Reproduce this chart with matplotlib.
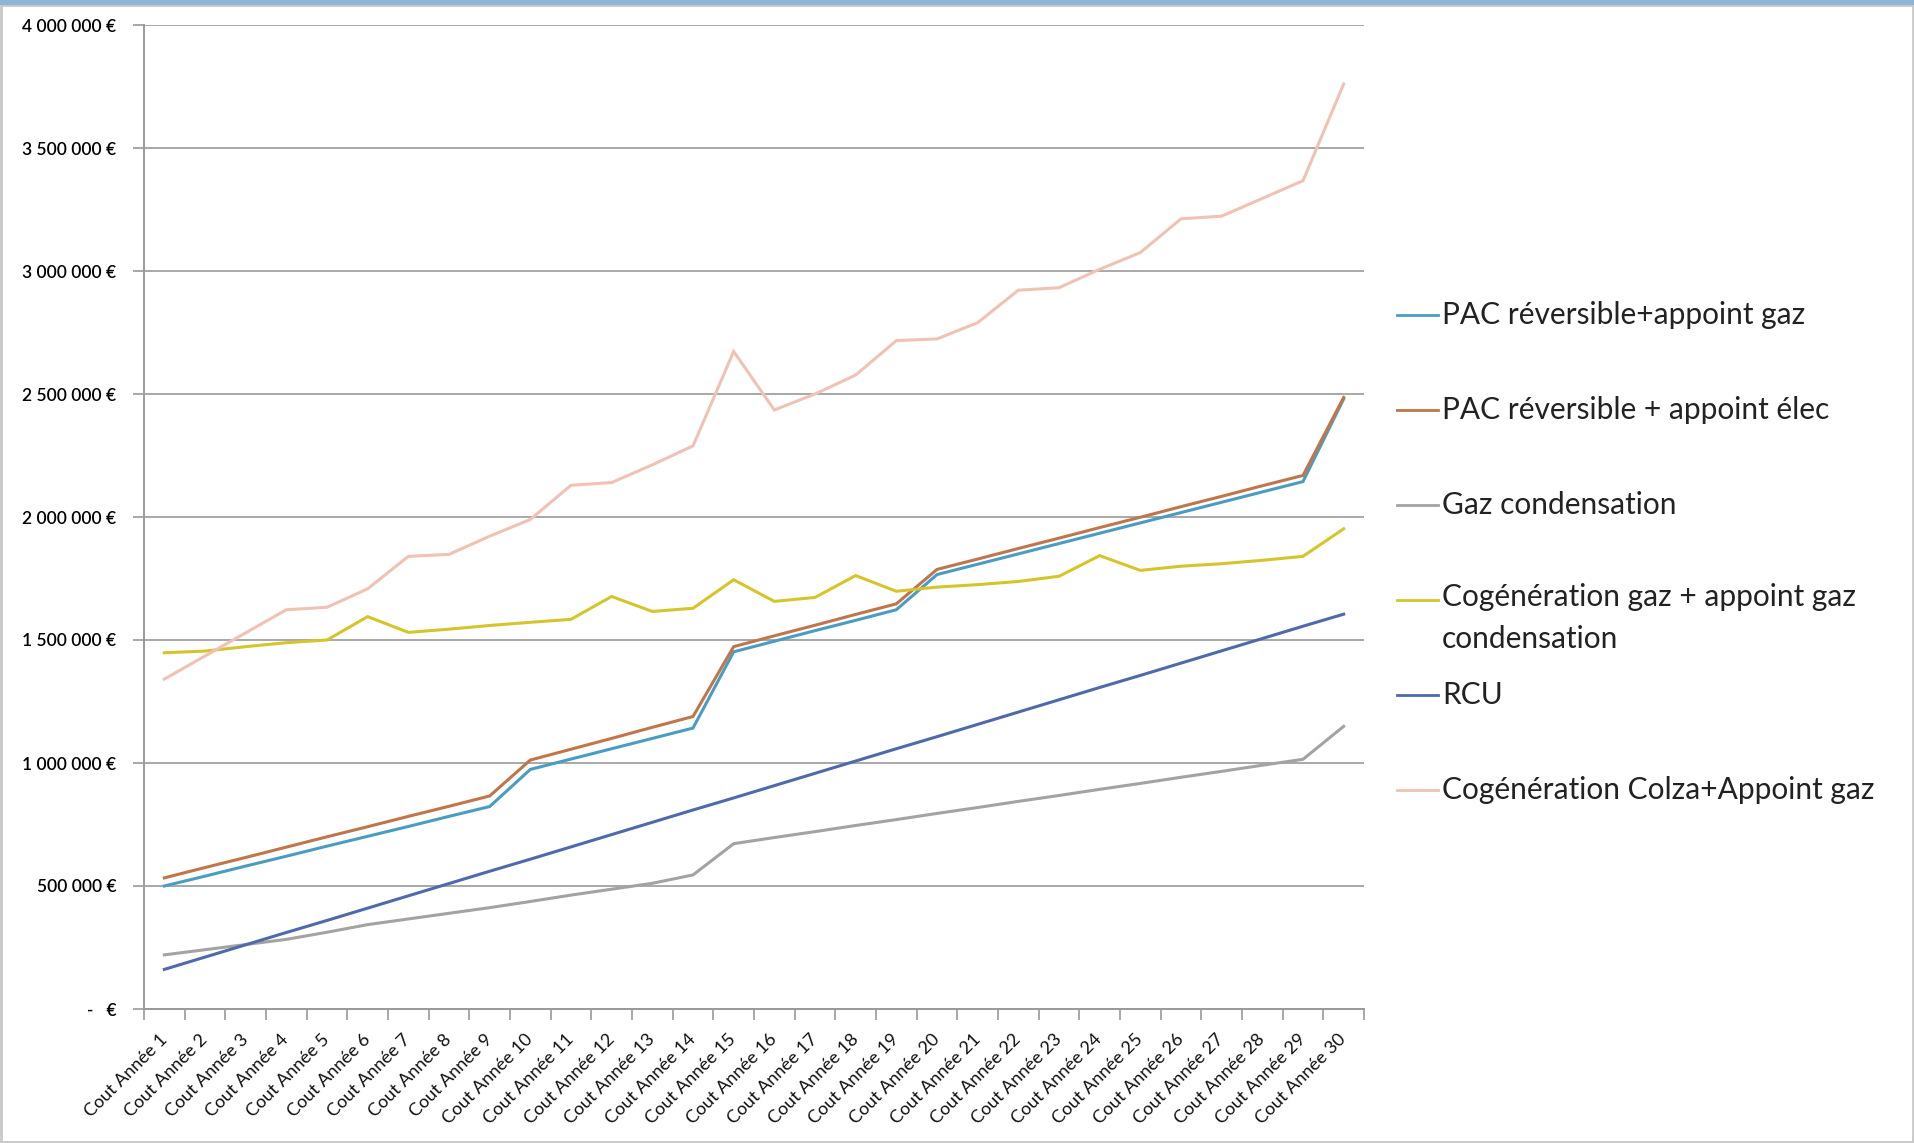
import numpy as np
import matplotlib.pyplot as plt
from matplotlib.lines import Line2D
from matplotlib.patches import Rectangle

plt.rcParams['font.family'] = ['Lato', 'DejaVu Sans']

W, H = 1915, 1143

annees = ['Cout Année %d' % i for i in range(1, 31)]

# valeurs en k€
pac_gaz = [500, 540, 581, 621, 662, 702, 742, 783, 823, 974,
           1016, 1058, 1100, 1142, 1452, 1495, 1538, 1580, 1623, 1766,
           1808, 1850, 1892, 1934, 1976, 2018, 2060, 2102, 2144, 2480]
pac_elec = [533, 575, 616, 658, 700, 741, 783, 824, 866, 1012,
            1056, 1100, 1145, 1189, 1473, 1517, 1560, 1604, 1647, 1787,
            1829, 1872, 1914, 1957, 1999, 2042, 2084, 2127, 2169, 2486]
gaz_cond = [220, 241, 262, 283, 312, 343, 366, 389, 412, 437,
            463, 487, 511, 545, 672, 697, 721, 746, 770, 795,
            819, 844, 868, 893, 917, 942, 966, 991, 1015, 1149]
cogen_gaz = [1448, 1455, 1473, 1489, 1500, 1595, 1531, 1544, 1559, 1572,
             1584, 1677, 1616, 1629, 1745, 1657, 1673, 1762, 1698, 1715,
             1725, 1738, 1759, 1843, 1783, 1800, 1810, 1824, 1840, 1952]
rcu = [161, 211, 261, 311, 360, 410, 460, 510, 560, 609,
       659, 709, 759, 809, 858, 908, 958, 1008, 1058, 1107,
       1157, 1207, 1257, 1307, 1356, 1406, 1456, 1506, 1556, 1605]
colza = [1341, 1435, 1529, 1623, 1633, 1708, 1840, 1848, 1922, 1990,
         2129, 2140, 2212, 2289, 2673, 2435, 2500, 2577, 2717, 2724,
         2790, 2922, 2932, 3007, 3075, 3212, 3223, 3295, 3367, 3760]

series = [pac_gaz, pac_elec, gaz_cond, cogen_gaz, rcu, colza]
noms = ['PAC réversible+appoint gaz', 'PAC réversible + appoint élec',
        'Gaz condensation', 'Cogénération gaz + appoint gaz\ncondensation',
        'RCU', 'Cogénération Colza+Appoint gaz']
couleurs = ['#4A9DC2', '#C0764A', '#A3A3A3', '#D6C52A', '#4F69AA', '#F0C2B4']

y_ticks = [0, 500000, 1000000, 1500000, 2000000, 2500000, 3000000, 3500000, 4000000]
y_labels = ['-   €', '500 000 €', '1 000 000 €', '1 500 000 €', '2 000 000 €',
            '2 500 000 €', '3 000 000 €', '3 500 000 €', '4 000 000 €']

fig = plt.figure(figsize=(W / 100, H / 100), dpi=100)
ax = fig.add_axes([144 / W, 1 - 1009 / H, (1364 - 144) / W, (1009 - 25) / H])

x = np.arange(len(annees))
for vals, c in zip(series, couleurs):
    ax.plot(x, np.array(vals) * 1000, color=c, lw=2.2, solid_joinstyle='miter', zorder=3)

ax.set_xlim(-0.5, len(annees) - 0.5)
ax.set_ylim(0, 4000000)

ax.set_yticks(y_ticks)
ax.set_yticklabels(y_labels, fontsize=12.5, color='#000000', fontweight='semibold')
ax.tick_params(axis='y', length=8, width=1.2, color='#9a9a9a', pad=12)
ax.yaxis.grid(True, color='#a8a8a8', lw=1.4)
ax.set_axisbelow(True)

ax.set_xticks(np.arange(-0.5, len(annees)), minor=False)
ax.set_xticklabels([])
ax.set_xticks(x, minor=True)
ax.set_xticklabels(annees, minor=True, rotation=45, ha='right', va='center',
                   rotation_mode='anchor', fontsize=13, color='#111111')
ax.tick_params(axis='x', which='major', length=8, width=1.2, color='#9a9a9a')
ax.tick_params(axis='x', which='minor', length=0, pad=20)

for s in ['top', 'right']:
    ax.spines[s].set_visible(False)
for s in ['left', 'bottom']:
    ax.spines[s].set_color('#9a9a9a')
    ax.spines[s].set_linewidth(1.4)

# légende
leg_y = [315, 410, 505, 600, 695, 790]
for nom, c, yy in zip(noms, couleurs, leg_y):
    fy = 1 - yy / H
    fig.add_artist(Line2D([1397 / W, 1438 / W], [fy, fy], color=c, lw=2,
                          transform=fig.transFigure))
    if '\n' in nom:
        fig.text(1442 / W, fy + 17 / H, nom, fontsize=21.5, va='top', ha='left',
                 color='#222222', linespacing=1.6)
    else:
        fig.text(1442 / W, fy, nom, fontsize=21.5, va='center', ha='left', color='#222222')

# cadre
fig.add_artist(Rectangle((1 / W, 1 / H), 1 - 3 / W, 1 - 6 / H, transform=fig.transFigure,
                         fill=False, ec='#c8c8c8', lw=2))
fig.add_artist(Rectangle((0, 1 - 5 / H), 1, 5 / H, transform=fig.transFigure,
                         color='#8fb4d8', lw=0))

fig.savefig('out.png', dpi=100)
